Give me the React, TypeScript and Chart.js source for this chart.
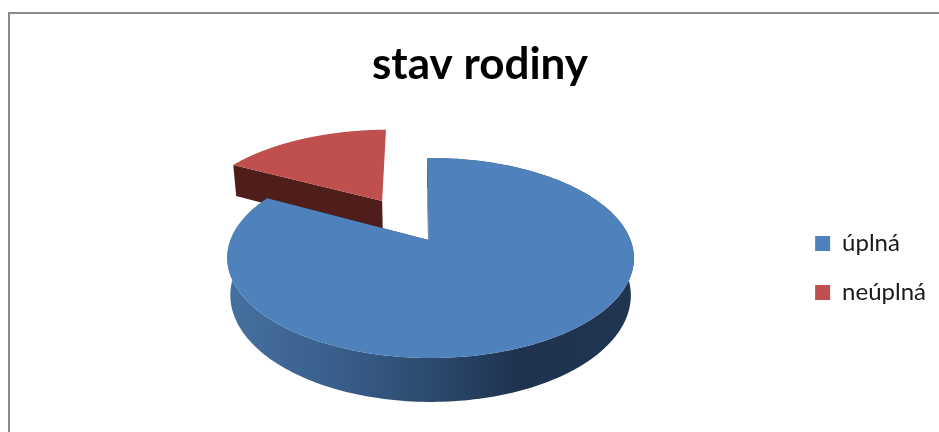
import React, { useEffect, useRef } from "react";
import { Chart, registerables } from "chart.js";

Chart.register(...registerables);

const categories = ["úplná", "neúplná"];
const shares = [83, 17];
const topColors = ["#4f81bd", "#c0504d"];
const chartTitle = "stav rodiny";

// Oblique camera used to turn the chart's own arc angles into a tilted 3D pie.
const CX = 428.5, CY = 240, R = 200, A = -53.56, C = 0.18, DEPTH = 36;
const explode = [[0, 0], [-0.25, 0.435]];

function project(u: number, v: number, depth: number, shift: number) {
  const w = 1 / (1 + C * v);
  const s = depth > 0 ? 0.985 : 1;
  return { x: CX + shift * w + ((R * u) * w) * s, y: (A * v + CY) * w + depth * w };
}

const perspectivePie = {
  id: "perspectivePie",
  beforeDraw(chart: any) {
    const { ctx } = chart;
    ctx.save();
    ctx.fillStyle = "#ffffff";
    ctx.fillRect(0, 0, 939, 432);
    ctx.strokeStyle = "#8a8a8a";
    ctx.lineWidth = 2;
    ctx.beginPath();
    ctx.moveTo(9, 432);
    ctx.lineTo(9, 13);
    ctx.lineTo(939, 13);
    ctx.stroke();
    ctx.restore();
  },
  beforeDatasetDraw(chart: any, args: any) {
    const { ctx } = chart;
    const arcs = args.meta.data;
    const order = [1, 0];
    for (const i of order) {
      const a = arcs[i];
      const [ou, ov] = explode[i];
      const st = a.startAngle + Math.PI / 2;
      const en = a.endAngle + Math.PI / 2;
      const n = 240;
      const rimShift = i === 0 ? 2 : 0;
      const rimAt = (k: number, d: number) => {
        const t = st + ((en - st) * k) / n;
        return project(ou + Math.sin(t), ov + Math.cos(t), d, rimShift);
      };
      const apexAt = (d: number) => project(ou, ov, d, 0);

      ctx.save();
      if (i === 0) {
        const wall = ctx.createLinearGradient(232, 0, 630, 0);
        wall.addColorStop(0, "#44709f");
        wall.addColorStop(0.25, "#3a5f8c");
        wall.addColorStop(0.5, "#2c4a6e");
        wall.addColorStop(0.72, "#1f3350");
        wall.addColorStop(1, "#1f3550");
        ctx.fillStyle = wall;
        ctx.beginPath();
        for (let k = 0; k <= n; k++) {
          const p = rimAt(k, 0);
          k === 0 ? ctx.moveTo(p.x, p.y) : ctx.lineTo(p.x, p.y);
        }
        for (let k = n; k >= 0; k--) {
          const p = rimAt(k, DEPTH);
          ctx.lineTo(p.x, p.y);
        }
        ctx.closePath();
        ctx.fill();
      }

      ctx.fillStyle = i === 0 ? "#1f3550" : "#4f1e1b";
      for (const k of i === 0 ? [0, n] : [0]) {
        const r0 = rimAt(k, 0), r1 = rimAt(k, DEPTH), a1 = apexAt(DEPTH), a0 = apexAt(0);
        ctx.beginPath();
        ctx.moveTo(r0.x, r0.y);
        ctx.lineTo(r1.x, r1.y);
        ctx.lineTo(a1.x, a1.y);
        ctx.lineTo(a0.x, a0.y);
        ctx.closePath();
        ctx.fill();
      }

      ctx.fillStyle = topColors[i];
      ctx.beginPath();
      const a0 = apexAt(0);
      ctx.moveTo(a0.x, a0.y);
      for (let k = 0; k <= n; k++) {
        const p = rimAt(k, 0);
        ctx.lineTo(p.x, p.y);
      }
      ctx.closePath();
      ctx.fill();
      ctx.restore();
    }
    return false;
  },
};

export default function App() {
  const ref = useRef<HTMLCanvasElement>(null);
  useEffect(() => {
    const chart = new Chart(ref.current!, {
      type: "pie",
      data: {
        labels: categories,
        datasets: [{ data: shares, backgroundColor: topColors, borderWidth: 0 }],
      },
      options: {
        responsive: false,
        animation: false,
        rotation: -1,
        layout: { padding: { left: 24, right: 3, bottom: -104 } },
        plugins: {
          title: {
            display: true,
            text: chartTitle,
            color: "#000000",
            font: { family: "Lato", size: 44, weight: "bold" },
            padding: { top: 38, bottom: 20 },
          },
          legend: {
            display: true,
            position: "right",
            labels: {
              boxWidth: 15,
              boxHeight: 15,
              padding: 25,
              color: "#1a1a1a",
              font: { family: "Lato", size: 24 },
            },
          },
          tooltip: { enabled: false },
        },
      },
      plugins: [perspectivePie],
    } as any);
    return () => chart.destroy();
  }, []);
  return (
    <div style={{ position: "fixed", left: 0, top: 0, width: 939, height: 432 }}>
      <canvas ref={ref} width={939} height={432} style={{ display: "block" }} />
    </div>
  );
}
